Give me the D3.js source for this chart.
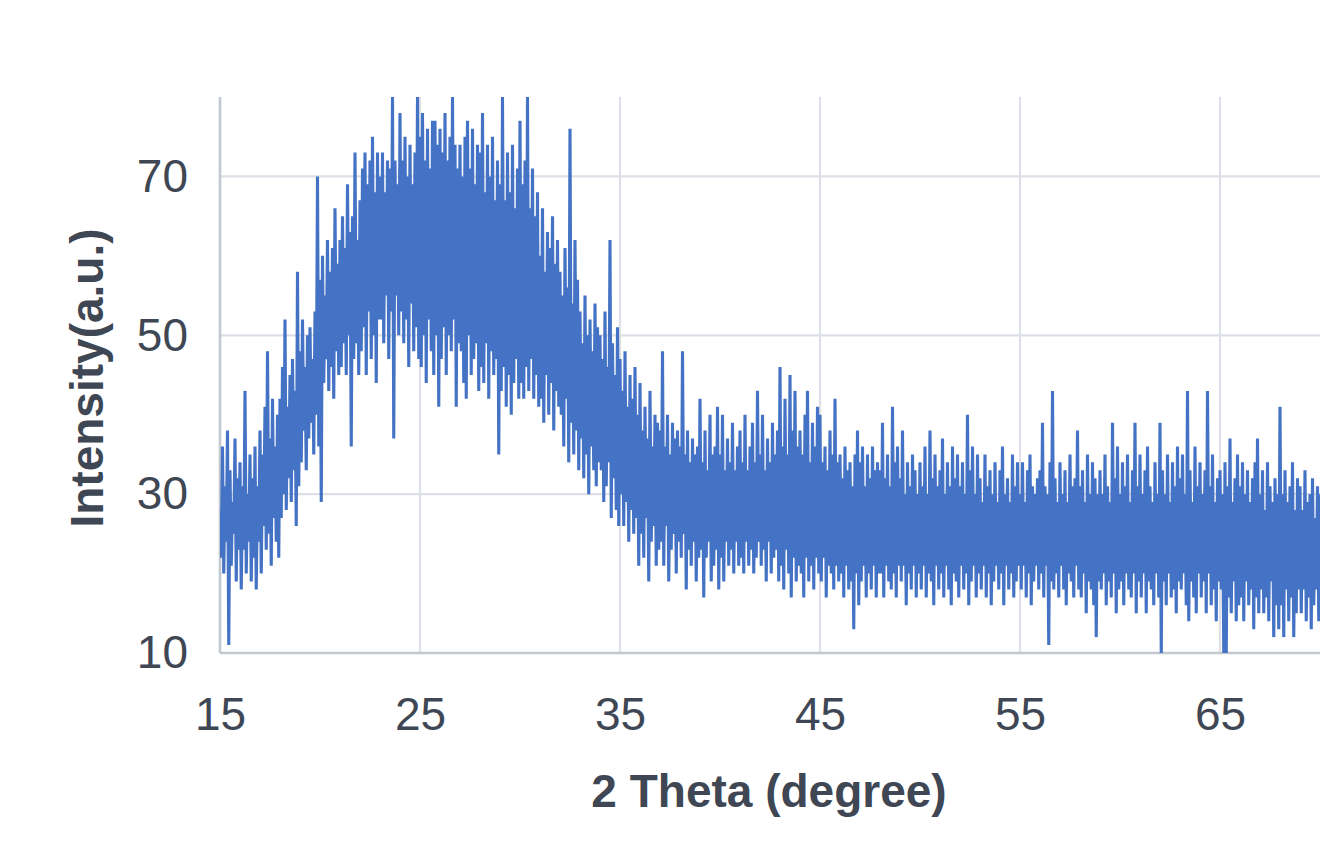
<!DOCTYPE html>
<html>
<head>
<meta charset="utf-8">
<script src="https://cdn.jsdelivr.net/npm/d3@7/dist/d3.min.js"></script>
<style>
  html, body { margin: 0; padding: 0; background: #ffffff; }
  svg { display: block; font-family: "Liberation Sans", Arial, sans-serif; }
</style>
</head>
<body>
<svg id="chart" width="1340" height="848"></svg>
<script>
// ---- Data ----
const thetaStart = 15;       // first 2θ sample (degree)
const thetaStep = 0.0625;    // sampling step (degree), 16 samples per degree

// Intensity samples, one row per degree
const intensity15to25 = [
  28, 22, 36, 20, 31, 24, 38, 11, 33, 21, 29, 25, 37, 19, 32, 23,
  34, 18, 31, 23, 43, 20, 30, 24, 35, 19, 32, 22, 36, 18, 31, 24,
  38, 20, 35, 26, 41, 23, 48, 25, 37, 21, 42, 27, 36, 24, 40, 22,
  42, 27, 46, 30, 52, 28, 41, 32, 45, 29, 47, 33, 43, 26, 58, 31,
  48, 34, 52, 38, 46, 33, 50, 37, 51, 39, 47, 35, 53, 40, 70, 36,
  57, 29, 60, 44, 55, 47, 62, 43, 58, 46, 61, 42, 66, 48, 59, 45,
  62, 46, 65, 49, 61, 45, 69, 50, 63, 36, 65, 47, 73, 49, 62, 45,
  67, 48, 71, 51, 73, 45, 69, 53, 72, 47, 75, 50, 68, 44, 73, 52,
  70, 52, 73, 49, 68, 55, 72, 47, 71, 53, 80, 37, 72, 55, 69, 50,
  78, 53, 72, 49, 75, 52, 70, 46, 74, 54, 69, 48, 73, 51, 80, 47
];
const intensity25to35 = [
  75, 46, 78, 50, 72, 44, 76, 52, 71, 48, 77, 45, 77, 50, 74, 41,
  76, 47, 73, 51, 78, 45, 72, 50, 75, 48, 80, 52, 74, 41, 71, 49,
  74, 48, 70, 44, 75, 42, 77, 50, 71, 45, 76, 47, 69, 49, 74, 43,
  73, 46, 78, 44, 68, 49, 74, 42, 70, 48, 75, 45, 67, 47, 72, 35,
  69, 43, 80, 46, 67, 41, 73, 45, 68, 40, 74, 44, 66, 47, 71, 42,
  77, 44, 69, 42, 72, 46, 80, 43, 66, 47, 71, 42, 65, 45, 68, 41,
  60, 42, 66, 39, 58, 45, 63, 40, 61, 44, 65, 38, 59, 43, 62, 41,
  58, 40, 55, 36, 61, 42, 56, 34, 76, 39, 54, 35, 62, 38, 57, 33,
  53, 37, 49, 32, 55, 35, 50, 30, 52, 36, 48, 33, 54, 31, 51, 34,
  50, 33, 47, 29, 53, 31, 46, 34, 62, 27, 49, 32, 45, 28, 51, 26
];
const intensity35to45 = [
  47, 30, 43, 26, 48, 29, 41, 24, 45, 28, 42, 25, 46, 27, 40, 21,
  44, 25, 38, 22, 41, 27, 37, 19, 43, 24, 36, 26, 40, 21, 39, 23,
  38, 24, 48, 21, 36, 26, 40, 19, 35, 23, 39, 25, 37, 20, 38, 24,
  36, 22, 48, 25, 35, 18, 38, 23, 34, 21, 37, 24, 35, 19, 36, 22,
  42, 23, 34, 17, 38, 22, 33, 24, 40, 19, 35, 21, 36, 23, 41, 18,
  35, 22, 40, 19, 33, 24, 37, 21, 34, 23, 39, 20, 33, 24, 36, 21,
  38, 22, 34, 20, 40, 24, 33, 21, 36, 23, 39, 20, 34, 22, 43, 24,
  35, 21, 40, 23, 33, 19, 37, 24, 34, 20, 39, 22, 35, 23, 38, 19,
  46, 21, 36, 18, 42, 23, 35, 20, 45, 17, 38, 22, 43, 19, 36, 21,
  38, 20, 35, 17, 40, 22, 43, 19, 34, 21, 39, 18, 36, 22, 41, 20
];
const intensity45to55 = [
  40, 19, 34, 22, 36, 17, 33, 21, 38, 20, 35, 18, 42, 21, 34, 19,
  35, 20, 32, 17, 36, 21, 33, 18, 34, 19, 31, 13, 35, 20, 38, 16,
  34, 19, 36, 21, 31, 17, 35, 20, 32, 18, 36, 21, 33, 17, 34, 20,
  33, 20, 39, 17, 32, 21, 35, 19, 31, 18, 41, 20, 34, 17, 36, 21,
  32, 19, 38, 21, 30, 16, 34, 20, 31, 18, 35, 21, 33, 17, 30, 20,
  34, 18, 31, 21, 36, 17, 30, 20, 38, 19, 32, 16, 35, 21, 31, 18,
  33, 20, 37, 17, 30, 21, 34, 18, 31, 16, 36, 20, 32, 19, 35, 17,
  31, 21, 34, 18, 30, 20, 40, 16, 33, 19, 36, 21, 30, 17, 35, 20,
  32, 18, 29, 21, 35, 17, 31, 20, 33, 16, 30, 19, 34, 21, 29, 18,
  33, 20, 36, 16, 30, 21, 32, 18, 29, 20, 35, 17, 31, 19, 34, 21
];
const intensity55to70 = [
  30, 18, 34, 21, 29, 17, 33, 20, 35, 16, 31, 19, 30, 21, 32, 18,
  33, 20, 39, 17, 31, 21, 30, 11, 34, 19, 43, 18, 32, 20, 29, 17,
  34, 21, 30, 18, 33, 16, 29, 20, 35, 19, 31, 17, 32, 21, 38, 18,
  31, 17, 33, 20, 29, 15, 35, 19, 30, 18, 34, 16, 32, 12, 30, 19,
  33, 18, 30, 20, 35, 16, 31, 19, 29, 17, 39, 20, 32, 15, 36, 18,
  30, 19, 34, 16, 31, 20, 35, 18, 29, 17, 33, 20, 39, 15, 31, 19,
  35, 17, 30, 20, 33, 15, 36, 19, 31, 18, 29, 16, 34, 20, 30, 17,
  39, 10, 33, 19, 30, 16, 35, 20, 29, 17, 34, 18, 31, 15, 36, 19,
  32, 18, 35, 20, 30, 16, 43, 14, 33, 19, 29, 17, 36, 15, 31, 20,
  34, 17, 30, 19, 33, 15, 43, 20, 31, 16, 35, 18, 29, 14, 32, 19,
  33, 18, 30, 10, 34, 10, 31, 17, 37, 15, 29, 19, 32, 14, 35, 16,
  31, 17, 34, 14, 30, 19, 33, 16, 29, 18, 32, 13, 34, 17, 37, 15,
  30, 18, 33, 15, 28, 17, 34, 14, 31, 19, 29, 12, 32, 16, 30, 13,
  41, 16, 30, 12, 33, 18, 29, 14, 31, 17, 34, 12, 28, 15, 32, 18,
  31, 15, 28, 18, 33, 14, 29, 17, 30, 13, 32, 16, 27, 18, 31, 14,
  30
];

const xTicks = [15, 25, 35, 45, 55, 65];
const yTicks = [10, 30, 50, 70];
const xDomain = [15, 70];
const yDomain = [10, 80];
const xTitle = "2 Theta (degree)";
const yTitle = "Intensity(a.u.)";

// ---- Build series ----
const intensity = [].concat(intensity15to25, intensity25to35, intensity35to45, intensity45to55, intensity55to70);
const series = intensity.map((v, i) => ({ theta: thetaStart + i * thetaStep, value: v }));

// ---- Layout ----
const svg = d3.select("#chart");
const plot = { left: 220, right: 1320, top: 97, bottom: 653 };
const x = d3.scaleLinear().domain(xDomain).range([plot.left, plot.right]);
const y = d3.scaleLinear().domain(yDomain).range([plot.bottom, plot.top]);

const textColor = "#3e4753";
const gridColor = "#dde1e7";
const axisColor = "#c3c8cf";

// Grid lines
svg.append("g")
  .selectAll("line.vgrid")
  .data(xTicks.filter(t => t !== xDomain[0]))
  .join("line")
  .attr("x1", d => x(d)).attr("x2", d => x(d))
  .attr("y1", plot.top).attr("y2", plot.bottom)
  .attr("stroke", gridColor).attr("stroke-width", 2.2);

svg.append("g")
  .selectAll("line.hgrid")
  .data(yTicks.filter(t => t !== yDomain[0]))
  .join("line")
  .attr("x1", plot.left).attr("x2", plot.right)
  .attr("y1", d => y(d)).attr("y2", d => y(d))
  .attr("stroke", gridColor).attr("stroke-width", 2.2);

// Axis lines
svg.append("line")
  .attr("x1", plot.left).attr("x2", plot.left)
  .attr("y1", plot.top).attr("y2", plot.bottom)
  .attr("stroke", axisColor).attr("stroke-width", 2.6);
svg.append("line")
  .attr("x1", plot.left).attr("x2", plot.right)
  .attr("y1", plot.bottom).attr("y2", plot.bottom)
  .attr("stroke", axisColor).attr("stroke-width", 2.6);

// Data line (clipped to the plot area)
svg.append("clipPath").attr("id", "plotClip")
  .append("rect")
  .attr("x", plot.left).attr("y", plot.top)
  .attr("width", plot.right - plot.left).attr("height", plot.bottom - plot.top);

const line = d3.line().x(d => x(d.theta)).y(d => y(d.value));
svg.append("path")
  .datum(series)
  .attr("clip-path", "url(#plotClip)")
  .attr("d", line)
  .attr("fill", "none")
  .attr("stroke", "#4472c4")
  .attr("stroke-width", 3.1)
  .attr("stroke-linejoin", "miter")
  .attr("stroke-miterlimit", 2);

// Axes (labels only)
const xAxis = svg.append("g")
  .attr("transform", `translate(0,${plot.bottom})`)
  .call(d3.axisBottom(x).tickValues(xTicks).tickSize(0).tickPadding(44).tickFormat(d3.format("d")));
const yAxis = svg.append("g")
  .attr("transform", `translate(${plot.left},0)`)
  .call(d3.axisLeft(y).tickValues(yTicks).tickSize(0).tickPadding(32).tickFormat(d3.format("d")));
[xAxis, yAxis].forEach(g => {
  g.select(".domain").remove();
  g.selectAll("text")
    .attr("fill", textColor)
    .style("font-size", "46px")
    .style("font-family", "\"Liberation Sans\", Arial, sans-serif");
});

// Axis titles
svg.append("text")
  .attr("x", 769).attr("y", 807)
  .attr("text-anchor", "middle")
  .attr("fill", textColor)
  .style("font-size", "46px")
  .style("font-weight", "bold")
  .text(xTitle);

svg.append("text")
  .attr("transform", "translate(103,378) rotate(-90)")
  .attr("text-anchor", "middle")
  .attr("fill", textColor)
  .style("font-size", "46px")
  .style("font-weight", "bold")
  .text(yTitle);
</script>
</body>
</html>
